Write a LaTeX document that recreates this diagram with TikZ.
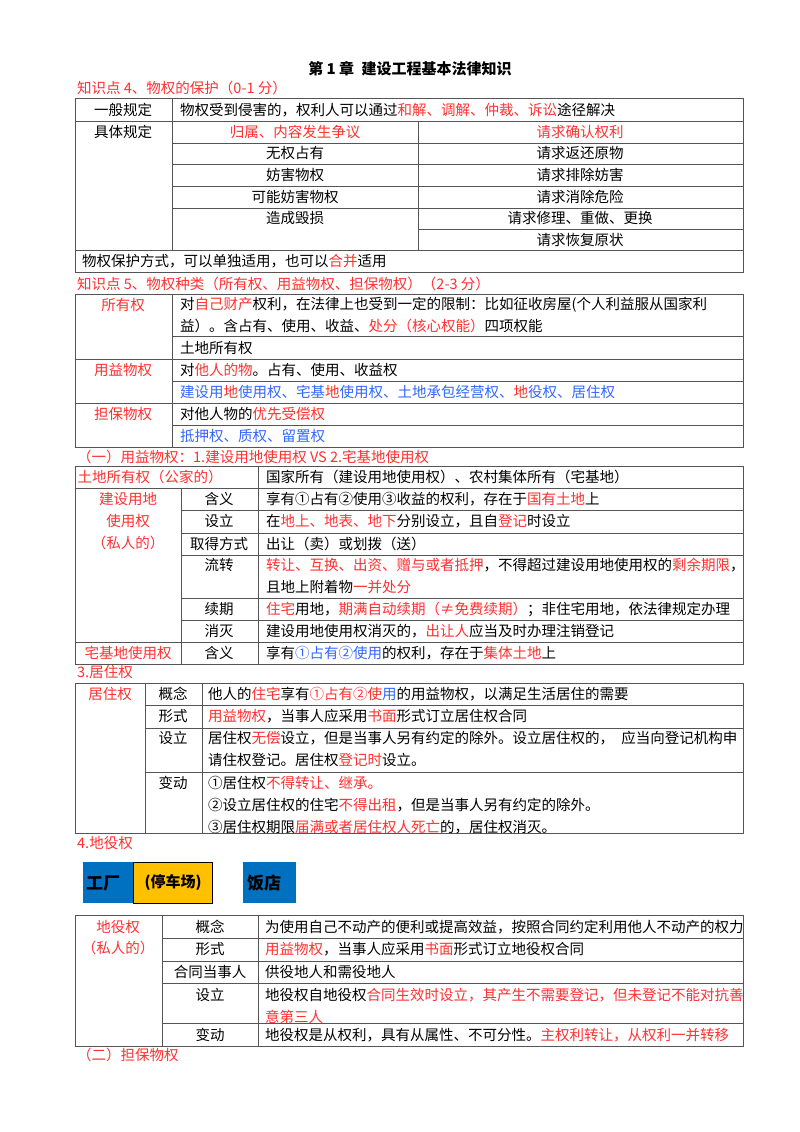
\documentclass[tikz,border=0pt]{standalone}
\usepackage{fontspec}
\setmainfont{Noto Sans CJK SC}
\definecolor{rd}{HTML}{FF3030}
\definecolor{bl}{HTML}{3366FF}
\definecolor{ln}{HTML}{555555}
\definecolor{bbox}{HTML}{0070C0}
\definecolor{ybox}{HTML}{FFC000}
\newcommand\R[1]{{\color{rd}#1}}
\newcommand\B[1]{{\color{bl}#1}}
\newcounter{tn}
\newcommand\tx[3]{\stepcounter{tn}\node[t] (t\thetn) at (#1,#2) {#3};}
\newcommand\tc[3]{\stepcounter{tn}\node[c] (t\thetn) at (#1,#2) {#3};}
\begin{document}
\begin{tikzpicture}[x=1pt,y=-1pt,
  t/.style={anchor=west,inner sep=0pt,font=\fontsize{14.5}{17}\selectfont},
  c/.style={anchor=center,inner sep=0pt,font=\fontsize{14.5}{17}\selectfont},
  g/.style={draw=ln,line width=0.9pt}]
\useasboundingbox (0,0) rectangle (800,1132);
\fill[white] (0,0) rectangle (800,1132);
\node[c,font=\fontsize{15}{18}\selectfont\bfseries] (title) at (410,69) {第 1 章\enspace 建设工程基本法律知识};
\tx{77}{88}{\R{知识点 4、物权的保护（0-1 分）}}
% table 1
\draw[g] (75,98) rectangle (743,272);
\draw[g] (75,121) -- (743,121) (75,250) -- (743,250);
\draw[g] (172,143) -- (743,143) (172,164) -- (743,164) (172,186) -- (743,186) (172,208) -- (743,208) (418,229) -- (743,229);
\draw[g] (172,98) -- (172,250) (418,121) -- (418,250);
\tc{123}{110}{一般规定}
\tx{180}{110}{物权受到侵害的，权利人可以通过\R{和解、调解、仲裁、诉讼}途径解决}
\tc{123}{132}{具体规定}
\tc{295}{132}{\R{归属、内容发生争议}}
\tc{295}{153}{无权占有}
\tc{295}{175}{妨害物权}
\tc{295}{197}{可能妨害物权}
\tc{295}{218}{造成毁损}
\tc{580}{132}{\R{请求确认权利}}
\tc{580}{153}{请求返还原物}
\tc{580}{175}{请求排除妨害}
\tc{580}{197}{请求消除危险}
\tc{580}{218}{请求修理、重做、更换}
\tc{580}{240}{请求恢复原状}
\tx{82}{261}{物权保护方式，可以单独适用，也可以\R{合并}适用}
% table 2
\tx{77}{284}{\R{知识点 5、物权种类（所有权、用益物权、担保物权）（2-3 分）}}
\draw[g] (75,294) rectangle (743,447);
\draw[g] (172,294) -- (172,447);
\draw[g] (172,336) -- (743,336) (75,359) -- (743,359) (172,381) -- (743,381) (75,403) -- (743,403) (172,425) -- (743,425);
\tc{123}{305}{\R{所有权}}
\tc{123}{370}{\R{用益物权}}
\tc{123}{414}{\R{担保物权}}
\tx{180}{305}{对\R{自己财产}权利，在法律上也受到一定的限制：比如征收房屋(个人利益服从国家利}
\tx{180}{326}{益）。含占有、使用、收益、\R{处分（核心权能）}四项权能}
\tx{180}{348}{土地所有权}
\tx{180}{370}{对\R{他人的物}。占有、使用、收益权}
\tx{180}{392}{\B{建设用}\R{地}\B{使用权、宅基}\R{地}\B{使用权、土地承包经营权、}\R{地}\B{役权、居住权}}
\tx{180}{414}{对他人物的\R{优先受偿权}}
\tx{180}{436}{\B{抵押权、质权、留置权}}
% table 3
\tx{77}{457}{\R{（一）用益物权：1.建设用地使用权 VS 2.宅基地使用权}}
\draw[g] (75,466) rectangle (743,664);
\draw[g] (258,466) -- (258,664) (181,488) -- (181,664);
\draw[g] (75,488) -- (743,488) (75,642) -- (743,642);
\draw[g] (181,510) -- (743,510) (181,533) -- (743,533) (181,555) -- (743,555) (181,598) -- (743,598) (181,620) -- (743,620);
\tc{150}{477}{\R{土地所有权（公家的）}}
\tx{266}{477}{国家所有（建设用地使用权）、农村集体所有（宅基地）}
\tc{128}{499}{\R{建设用地}}
\tc{128}{521}{\R{使用权}}
\tc{128}{543}{\R{（私人的）}}
\tc{128}{653}{\R{宅基地使用权}}
\tc{219}{499}{含义}
\tc{219}{521}{设立}
\tc{219}{544}{取得方式}
\tc{219}{565}{流转}
\tc{219}{609}{续期}
\tc{219}{631}{消灭}
\tc{219}{653}{含义}
\tx{266}{499}{享有①占有②使用③收益的权利，存在于\R{国有土地}上}
\tx{266}{521}{在\R{地上、地表、地下}分别设立，且自\R{登记}时设立}
\tx{266}{544}{出让（卖）或划拨（送）}
\tx{266}{565}{\R{转让、互换、出资、赠与或者抵押}，不得超过建设用地使用权的\R{剩余期限}，}
\tx{266}{587}{且地上附着物\R{一并处分}}
\tx{266}{609}{\R{住宅}用地，\R{期满自动续期（≠免费续期）}；非住宅用地，依法律规定办理}
\tx{266}{631}{建设用地使用权消灭的，\R{出让人}应当及时办理注销登记}
\tx{266}{653}{享有\B{①占有②使用}的权利，存在于\R{集体土地}上}
% table 4
\tx{77}{672}{\R{3.居住权}}
\draw[g] (75,683) rectangle (743,833);
\draw[g] (145,683) -- (145,833) (202,683) -- (202,833);
\draw[g] (145,705) -- (743,705) (145,728) -- (743,728) (145,772) -- (743,772);
\tc{110}{694}{\R{居住权}}
\tc{173}{694}{概念}
\tc{173}{716}{形式}
\tc{173}{738}{设立}
\tc{173}{783}{变动}
\tx{208}{694}{他人的\R{住宅}享有\R{①占有②使}\B{用}的用益物权，以满足生活居住的需要}
\tx{208}{716}{\R{用益物权}，当事人应采用\R{书面}形式订立居住权合同}
\tx{208}{738}{居住权\R{无偿}设立，但是当事人另有约定的除外。设立居住权的，\enspace 应当向登记机构申}
\tx{208}{760}{请住权登记。居住权\R{登记时}设立。}
\tx{208}{783}{①居住权\R{不得转让、继承。}}
\tx{208}{805}{②设立居住权的住宅\R{不得出租}，但是当事人另有约定的除外。}
\tx{208}{827}{③居住权期限\R{届满或者居住权人死亡}的，居住权消灭。}
% diagram
\tx{77}{843}{\R{4.地役权}}
\node[fill=bbox,minimum width=50pt,minimum height=41pt,inner sep=0pt,anchor=north west] (fac) at (83,862) {};
\node[fill=ybox,draw=black,line width=1.2pt,minimum width=79pt,minimum height=41pt,inner sep=0pt,anchor=north west] (park) at (133,862) {};
\node[fill=bbox,minimum width=53pt,minimum height=41pt,inner sep=0pt,anchor=north west] (rest) at (243,862) {};
\node[anchor=west,inner sep=0pt,font=\fontsize{17}{20}\selectfont\bfseries] (facl) at (86,883) {工厂};
\node[anchor=center,inner sep=0pt,font=\fontsize{15}{18}\selectfont\bfseries] (parkl) at (173,883) {(停车场)};
\node[anchor=west,inner sep=0pt,font=\fontsize{17}{20}\selectfont\bfseries] (restl) at (247,883) {饭店};
% table 5
\draw[g] (75,915) rectangle (743,1046);
\draw[g] (162,915) -- (162,1046) (258,915) -- (258,1046);
\draw[g] (162,938) -- (743,938) (162,961) -- (743,961) (162,983) -- (743,983) (162,1023) -- (743,1023);
\tc{118}{927}{\R{地役权}}
\tc{118}{948}{\R{（私人的）}}
\tc{210}{927}{概念}
\tc{210}{949}{形式}
\tc{210}{972}{合同当事人}
\tc{210}{995}{设立}
\tc{210}{1035}{变动}
\tx{265}{927}{为使用自己不动产的便利或提高效益，按照合同约定利用他人不动产的权力}
\tx{265}{949}{\R{用益物权}，当事人应采用\R{书面}形式订立地役权合同}
\tx{265}{972}{供役地人和需役地人}
\tx{265}{995}{地役权自地役权\R{合同生效时设立，其产生不需要登记，但未登记不能对抗善}}
\tx{265}{1017}{\R{意第三人}}
\tx{265}{1035}{地役权是从权利，具有从属性、不可分性。\R{主权利转让，从权利一并转移}}
\tx{77}{1055}{\R{（二）担保物权}}
\end{tikzpicture}
\end{document}
